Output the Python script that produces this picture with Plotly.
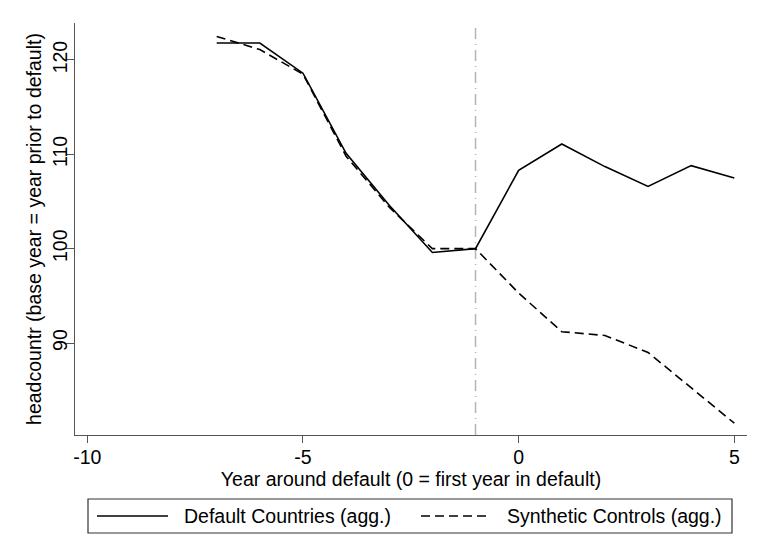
import plotly.graph_objects as go

# Headcount index around sovereign default (base year = year prior to default = 100)
years = [-7, -6, -5, -4, -3, -2, -1, 0, 1, 2, 3, 4, 5]
default_agg = [121.8, 121.8, 118.6, 110.1, 104.6, 99.6, 100.0, 108.3, 111.1, 108.7, 106.6, 108.8, 107.5]
synthetic_agg = [122.5, 121.1, 118.5, 109.8, 104.4, 100.0, 100.0, 95.3, 91.2, 90.8, 89.0, 85.2, 81.5]
series_names = ["Default Countries (agg.)", "Synthetic Controls (agg.)"]
x_ticks = [-10, -5, 0, 5]
x_tick_labels = ["-10", "-5", "0", "5"]
y_ticks = [90, 100, 110, 120]
default_marker_year = -1

FONT = "Liberation Sans, Arial, sans-serif"
FS = 19.5
AXIS_GREY = "#555555"

W, H = 763, 560
ML, MR, MT, MB = 75, 16, 23, 125
PW, PH = W - ML - MR, H - MT - MB


def paper_x(px):
    return (px - ML) / PW


def paper_y(py):
    return (H - MB - py) / PH


fig = go.Figure()

# reference line at the year before default
fig.add_shape(type="line", xref="x", yref="paper",
              x0=default_marker_year, x1=default_marker_year, y0=0, y1=1,
              line=dict(color="#b4b4b4", width=1.5, dash="11px,5px,1px,5px"),
              layer="below")

fig.add_trace(go.Scatter(x=years, y=default_agg, mode="lines", name=series_names[0],
                         line=dict(color="black", width=1.6), showlegend=False))
fig.add_trace(go.Scatter(x=years, y=synthetic_agg, mode="lines", name=series_names[1],
                         line=dict(color="black", width=1.6, dash="9px,5px"), showlegend=False))

# boxed legend below the plot
lx0, lx1, ly0, ly1 = 88, 732, 499, 533
ly_mid = (ly0 + ly1) / 2
fig.add_shape(type="rect", xref="paper", yref="paper",
              x0=paper_x(lx0), x1=paper_x(lx1), y0=paper_y(ly1), y1=paper_y(ly0),
              line=dict(color="#333333", width=1.2), fillcolor="white")
legend_items = [
    (97, 168, 182, "solid"),
    (421, 491, 505, "9px,5px"),
]
for (sx0, sx1, tx, dash), name in zip(legend_items, series_names):
    fig.add_shape(type="line", xref="paper", yref="paper",
                  x0=paper_x(sx0), x1=paper_x(sx1), y0=paper_y(ly_mid), y1=paper_y(ly_mid),
                  line=dict(color="black", width=1.6, dash=dash))
    fig.add_annotation(xref="paper", yref="paper", x=paper_x(tx), y=paper_y(ly_mid),
                       xanchor="left", yanchor="middle", showarrow=False, text=name,
                       font=dict(family=FONT, size=FS, color="black"))

fig.update_layout(
    width=W, height=H,
    margin=dict(l=ML, r=MR, t=MT, b=MB, pad=0),
    paper_bgcolor="white", plot_bgcolor="white",
    font=dict(family=FONT, size=FS, color="black"),
    xaxis=dict(
        range=[-10.285, 5.294], tickvals=x_ticks, ticktext=x_tick_labels,
        ticks="outside", ticklen=7, ticklabelstandoff=-3,
        tickwidth=1.3, tickcolor=AXIS_GREY, showline=True, linecolor=AXIS_GREY,
        linewidth=1.3, showgrid=False, zeroline=False,
        tickfont=dict(family=FONT, size=FS, color="black"),
        title=dict(text="Year around default (0 = first year in default)",
                   standoff=0, font=dict(family=FONT, size=FS, color="black")),
    ),
    yaxis=dict(
        range=[80.25, 123.92], tickvals=y_ticks, tickangle=-90, ticks="outside",
        ticklen=8, ticklabelstandoff=-9,
        tickwidth=1.3, tickcolor=AXIS_GREY, showline=True,
        linecolor=AXIS_GREY, linewidth=1.3, showgrid=False, zeroline=False,
        tickfont=dict(family=FONT, size=FS, color="black"),
        title=dict(text="headcountr (base year = year prior to default)",
                   standoff=2, font=dict(family=FONT, size=FS, color="black")),
    ),
)

fig.write_html("out.html")
